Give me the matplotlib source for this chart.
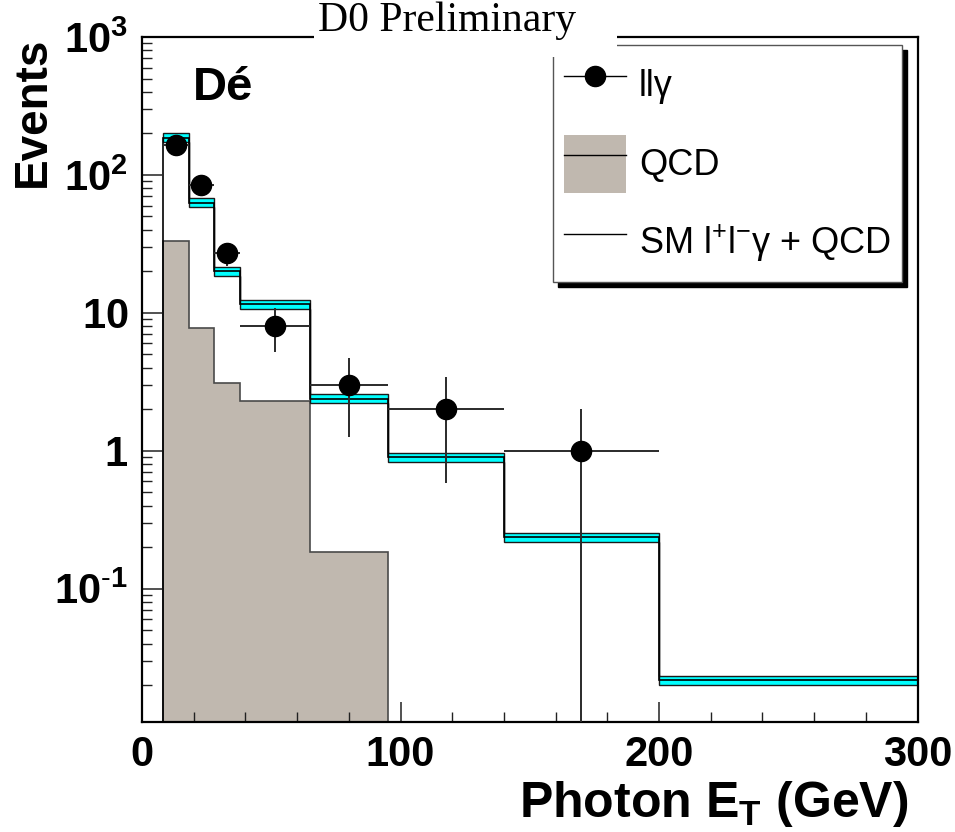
import numpy as np
import matplotlib
matplotlib.use('Agg')
import matplotlib.pyplot as plt
from matplotlib.lines import Line2D
from matplotlib.patches import Patch, Rectangle
from matplotlib.ticker import FixedLocator, MultipleLocator, LogLocator, FixedFormatter, NullFormatter

plt.rcParams['font.family'] = ['Liberation Sans', 'DejaVu Sans']
plt.rcParams['mathtext.fontset'] = 'custom'
plt.rcParams['mathtext.rm'] = 'Liberation Sans'
plt.rcParams['mathtext.bf'] = 'Liberation Sans:bold'
plt.rcParams['mathtext.it'] = 'Liberation Sans:italic'

# bin edges (GeV) and contents
edges = [8, 18, 28, 38, 65, 95, 140, 200, 300]
sm_total = [186, 63, 20, 11.5, 2.38, 0.90, 0.237, 0.0217]
qcd = [33, 7.8, 3.1, 2.3, 0.184, 0, 0, 0]
band_frac = 0.078

# observed llgamma events
data_x = [13, 23, 33, 51.5, 80, 117.5, 170]
data_y = [165, 85, 27, 8, 3, 2, 1]

y_ticks = [0.1, 1, 10, 100, 1000]
y_labels = [r'$\mathbf{10^{\text{-}1}}$', r'$\mathbf{1}$', r'$\mathbf{10}$',
            r'$\mathbf{10^{2}}$', r'$\mathbf{10^{3}}$']
x_ticks = [0, 100, 200, 300]

qcd_color = '#c0b8af'
band_color = '#00ffff'

edges = np.array(edges)
sm_total = np.array(sm_total)
qcd = np.array(qcd)
data_y = np.array(data_y, dtype=float)

fig = plt.figure(figsize=(9.55, 8.32), dpi=100)
ax = fig.add_axes([142 / 955, 110 / 832, 775.5 / 955, 685 / 832])
ax.set_yscale('log', nonpositive='clip')
ax.set_xlim(0, 300)
ax.set_ylim(0.0108, 1000)

# QCD background
nq = int(np.count_nonzero(qcd))
ax.stairs(qcd[:nq], edges[:nq + 1], baseline=1e-4, fill=True,
          facecolor=qcd_color, edgecolor='#4a4a4a', lw=1.2, zorder=1)

# SM + QCD with error band
ax.stairs(sm_total * (1 + band_frac), edges, baseline=sm_total / (1 + band_frac),
          fill=True, facecolor=band_color, edgecolor='#1a1a1a', lw=1.0, zorder=2)
ax.stairs(sm_total, edges, baseline=1e-4, color='black', lw=1.2, zorder=3)

# data
xerr = [(edges[i + 1] - edges[i]) / 2 for i in range(len(data_x))]
yerr = np.sqrt(data_y)
ax.errorbar(data_x, data_y, xerr=xerr, yerr=yerr, fmt='o', color='black',
            ecolor='#2a2a2a', elinewidth=1.4, markersize=14.5, capsize=0, zorder=4)

# axes styling
for s in ax.spines.values():
    s.set_linewidth(1.6)

ax.yaxis.set_major_locator(FixedLocator(y_ticks))
ax.yaxis.set_major_formatter(FixedFormatter(y_labels))
ax.yaxis.set_minor_locator(LogLocator(base=10, subs=range(2, 10), numticks=20))
ax.yaxis.set_minor_formatter(NullFormatter())
ax.xaxis.set_major_locator(FixedLocator(x_ticks))
ax.xaxis.set_minor_locator(MultipleLocator(20))

ax.tick_params(which='both', direction='in', top=False, right=False, color='#222222')
ax.tick_params(which='major', length=14.4, width=1.1, labelsize=30, pad=10)
ax.tick_params(which='minor', length=7.5, width=1.0)
ax.tick_params(axis='x', which='major', pad=9)
for lab in ax.get_xticklabels():
    lab.set_fontweight('bold')

# legend
h_data = Line2D([], [], color='black', marker='o', markersize=14.5, lw=1)
h_qcd = (Patch(facecolor=qcd_color, edgecolor='none'), Line2D([], [], color='black', lw=1))
h_sm = Line2D([], [], color='black', lw=1)
leg = ax.legend([h_data, h_qcd, h_sm], ['llγ', 'QCD', r'SM l$^{+}$l$^{-}$γ + QCD'],
                loc='upper right', bbox_to_anchor=(0.980, 0.988), borderaxespad=0,
                fontsize=26, handlelength=1.72, handleheight=2.1, handletextpad=0.36,
                borderpad=0.3, labelspacing=0.57, fancybox=False, framealpha=1,
                edgecolor='#555555',
                shadow={'ox': 3.6, 'oy': -3.6, 'color': 'black', 'alpha': 1})
leg.get_frame().set_linewidth(1.0)

# text
fig.text(193 / 955, 1 - 100 / 832, 'Dé', fontsize=34, fontweight='bold',
         ha='left', va='baseline')
fig.text(33 / 955, 1 - 37 / 832, 'Events', fontsize=33, fontweight='bold',
         rotation=90, ha='center', va='top')
fig.text(908 / 955, 1 - 817 / 832, r'Photon E$_{\mathbf{T}}$ (GeV)', fontsize=36,
         fontweight='bold', ha='right', va='baseline')

fig.add_artist(Rectangle((314 / 955, 1 - 57 / 832), (617 - 314) / 955, 57 / 832,
                         transform=fig.transFigure, facecolor='white',
                         edgecolor='none', zorder=5))
fig.text(318 / 955, 1 - 31 / 832, 'D0 Preliminary', fontsize=30,
         family='Liberation Serif', ha='left', va='baseline', zorder=6)

fig.savefig('out.png', dpi=100)
